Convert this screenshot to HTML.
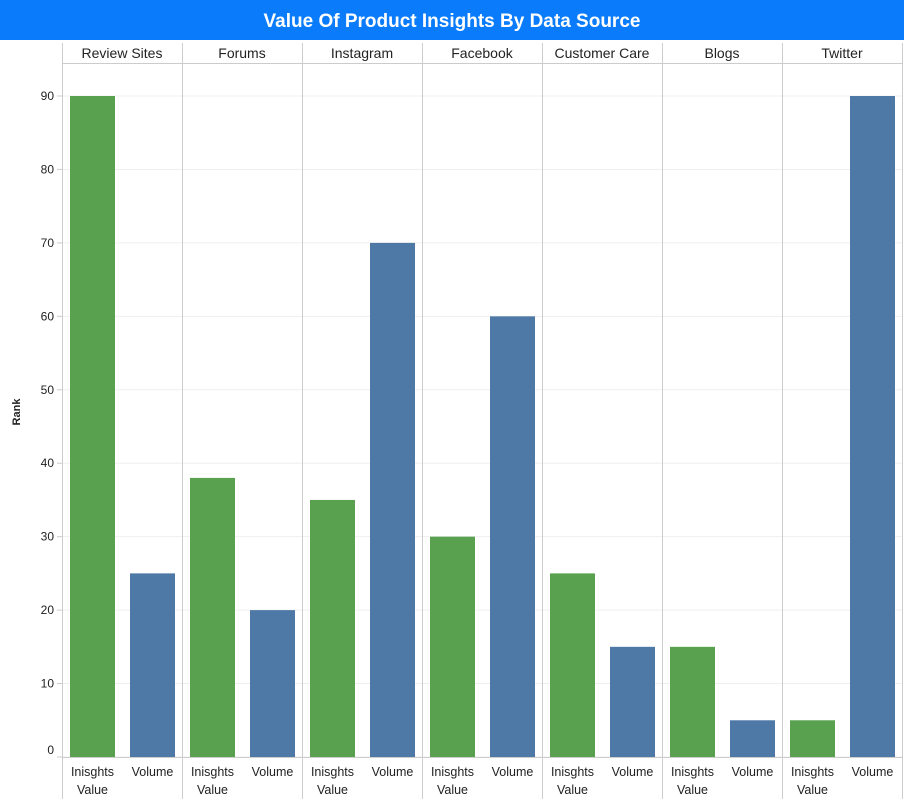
<!DOCTYPE html>
<html><head><meta charset="utf-8"><style>
html,body{margin:0;padding:0;background:#fff;}
svg{display:block;font-family:"Liberation Sans",sans-serif;}
</style></head><body>
<svg id="chart" width="904" height="799">
<rect x="0" y="0" width="904" height="40" fill="#0a7cfb"/>
<text x="452" y="27" text-anchor="middle" fill="#fff" font-size="19" font-weight="bold">Value Of Product Insights By Data Source</text>
<text transform="translate(20,412) rotate(-90)" text-anchor="middle" font-size="11" font-weight="bold" fill="#222">Rank</text>
<g id="grid"></g><g id="bars"></g><g id="labels"></g>
</svg>
<script>
const categories = ["Review Sites","Forums","Instagram","Facebook","Customer Care","Blogs","Twitter"];
const insightsValues = [90,38,35,30,25,15,5];
const volumeValues = [25,20,70,60,15,5,90];
const yTicks = [0,10,20,30,40,50,60,70,80,90];
const subLabels = [["Inisghts","Value"],["Volume"]];

const NS="http://www.w3.org/2000/svg";
const x0=62, panelW=120, yBase=757, yTop=96, yMaxVal=90;
const y = v => yBase - (v/yMaxVal)*(yBase-yTop);
const grid=document.getElementById('grid'), bars=document.getElementById('bars'), labels=document.getElementById('labels');
function mk(tag,attrs,parent){const e=document.createElementNS(NS,tag);for(const k in attrs)e.setAttribute(k,attrs[k]);parent.appendChild(e);return e;}
const right = x0+panelW*categories.length;
yTicks.forEach(t=>{
  const g=mk('line',{x1:x0,x2:right,y1:y(t),y2:y(t),stroke:'#efefef','stroke-width':1},grid);
  
  
  const tk=mk('line',{x1:x0-5,x2:x0,y1:y(t),y2:y(t),stroke:'#ccc'},grid);
  
  
  const lb=mk('text',{x:x0-8,y:(t===0?y(t)-3:y(t)+4),'text-anchor':'end','font-size':12,fill:'#222'},labels);
  lb.textContent=t;
  
  
});
// frame lines
mk('line',{x1:x0,x2:right,y1:63.5,y2:63.5,stroke:'#ccc'},grid);
mk('line',{x1:x0,x2:right,y1:757.5,y2:757.5,stroke:'#ccc'},grid);
for(let i=0;i<=categories.length;i++){
  const xx=x0+panelW*i+0.5;
  mk('line',{x1:xx,x2:xx,y1:43,y2:799,stroke:'#ccc'},grid);
}
categories.forEach((c,i)=>{
  const px=x0+panelW*i;
  const h=mk('text',{x:px+60,y:58,'text-anchor':'middle','font-size':14,fill:'#222'},labels);
  h.textContent=c;
  
  
  const vals=[insightsValues[i],volumeValues[i]];
  const cols=['#59a14f','#4e79a7'];
  vals.forEach((v,j)=>{
    const bx=px+8+j*60;
    const r=mk('rect',{x:bx,y:y(v),width:45,height:yBase-y(v),fill:cols[j]},bars);
    
    
    subLabels[j].forEach((s,k)=>{
      const t=mk('text',{x:bx+22.5,y:776+k*18,'text-anchor':'middle','font-size':12.5,fill:'#222'},labels);
      t.textContent=s;
      
      
    });
  });
});
</script>
</body></html>
